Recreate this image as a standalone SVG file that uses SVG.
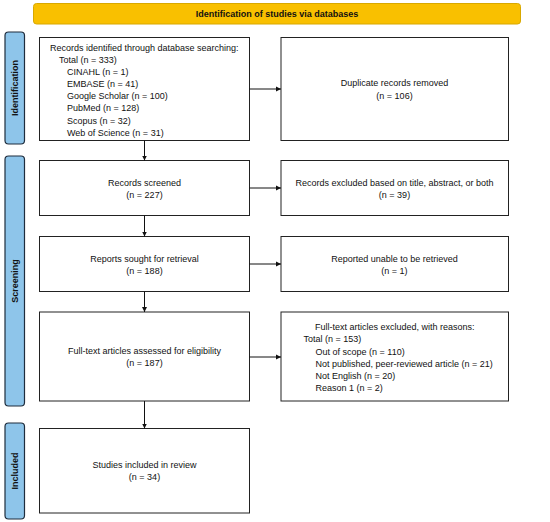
<svg xmlns="http://www.w3.org/2000/svg" width="550" height="522" viewBox="0 0 550 522">
<style>
.box{fill:#fff;stroke:#222;stroke-width:1}
.side{fill:#8ec5ea;stroke:#1f2d3d;stroke-width:1.2}
.t{font-family:"Liberation Sans",Arial,sans-serif;font-size:9px;fill:#111}
.c{text-anchor:middle}
.b{font-weight:bold}
.conn line{stroke:#111;stroke-width:1}
</style>
<defs>
<marker id="ah" markerWidth="6" markerHeight="6" refX="5" refY="3" orient="auto" markerUnits="userSpaceOnUse">
<path d="M0,0.5 L5,3 L0,5.5 Z" fill="#111"/>
</marker>
</defs>
<rect width="550" height="522" fill="#fff"/>
<g id="header">
<rect x="33.5" y="3.5" width="487" height="20.5" rx="3" fill="#f9c000" stroke="#d8a800"/>
<text class="t c b" x="277" y="17.3" font-size="9.8">Identification of studies via databases</text>
</g>
<g id="phase-identification">
<rect class="side" x="5" y="32" width="19.5" height="112" rx="3.5"/>
<text class="t c b" transform="translate(18.2,88) rotate(-90)">Identification</text>
</g>
<g id="phase-screening">
<rect class="side" x="5" y="156" width="19.5" height="250" rx="3.5"/>
<text class="t c b" transform="translate(18.2,281) rotate(-90)">Screening</text>
</g>
<g id="phase-included">
<rect class="side" x="5" y="423" width="19.5" height="96" rx="3.5"/>
<text class="t c b" transform="translate(18.2,471) rotate(-90)">Included</text>
</g>
<g id="n1">
<rect class="box" x="39.5" y="37.5" width="210" height="103"/>
<text class="t" x="50" y="50.5">Records identified through database searching:</text>
<text class="t" x="59" y="62.7">Total (n = 333)</text>
<text class="t" x="67" y="75">CINAHL (n = 1)</text>
<text class="t" x="67" y="87">EMBASE (n = 41)</text>
<text class="t" x="67" y="99.2">Google Scholar (n = 100)</text>
<text class="t" x="67" y="111.3">PubMed (n = 128)</text>
<text class="t" x="67" y="123.5">Scopus (n = 32)</text>
<text class="t" x="67" y="135.6">Web of Science (n = 31)</text>
</g>
<g id="n2">
<rect class="box" x="281" y="37.5" width="227.5" height="103"/>
<text class="t c" x="394.5" y="86.3">Duplicate records removed</text>
<text class="t c" x="394.5" y="98.8">(n = 106)</text>
</g>
<g id="n3">
<rect class="box" x="39.5" y="160.5" width="210" height="55"/>
<text class="t c" x="144.5" y="186">Records screened</text>
<text class="t c" x="144.5" y="198">(n = 227)</text>
</g>
<g id="n4">
<rect class="box" x="281" y="160.5" width="227.5" height="55"/>
<text class="t c" x="394.5" y="186">Records excluded based on title, abstract, or both</text>
<text class="t c" x="394.5" y="198">(n = 39)</text>
</g>
<g id="n5">
<rect class="box" x="39.5" y="236.5" width="210" height="55"/>
<text class="t c" x="144.5" y="261.5">Reports sought for retrieval</text>
<text class="t c" x="144.5" y="273.5">(n = 188)</text>
</g>
<g id="n6">
<rect class="box" x="281" y="236.5" width="227.5" height="55"/>
<text class="t c" x="394.5" y="261.5">Reported unable to be retrieved</text>
<text class="t c" x="394.5" y="273.5">(n = 1)</text>
</g>
<g id="n7">
<rect class="box" x="39.5" y="312" width="210" height="89"/>
<text class="t c" x="144.5" y="354.3">Full-text articles assessed for eligibility</text>
<text class="t c" x="144.5" y="366.3">(n = 187)</text>
</g>
<g id="n8">
<rect class="box" x="281" y="312" width="227.5" height="89"/>
<text class="t" x="315" y="330">Full-text articles excluded, with reasons:</text>
<text class="t" x="303.5" y="342.2">Total (n = 153)</text>
<text class="t" x="315.5" y="354.5">Out of scope (n = 110)</text>
<text class="t" x="315.5" y="366.7">Not published, peer-reviewed article (n = 21)</text>
<text class="t" x="315.5" y="379">Not English (n = 20)</text>
<text class="t" x="315.5" y="391.2">Reason 1 (n = 2)</text>
</g>
<g id="n9">
<rect class="box" x="39.5" y="428.5" width="210" height="84.5"/>
<text class="t c" x="144.5" y="467.8">Studies included in review</text>
<text class="t c" x="144.5" y="480.3">(n = 34)</text>
</g>
<g id="connectors" class="conn">
<line x1="249.5" y1="89" x2="281" y2="89" marker-end="url(#ah)"/>
<line x1="249.5" y1="188" x2="281" y2="188" marker-end="url(#ah)"/>
<line x1="249.5" y1="264" x2="281" y2="264" marker-end="url(#ah)"/>
<line x1="249.5" y1="357" x2="281" y2="357" marker-end="url(#ah)"/>
<line x1="144.5" y1="140.5" x2="144.5" y2="160.5" marker-end="url(#ah)"/>
<line x1="144.5" y1="215.5" x2="144.5" y2="236.5" marker-end="url(#ah)"/>
<line x1="144.5" y1="291.5" x2="144.5" y2="312" marker-end="url(#ah)"/>
<line x1="144.5" y1="401" x2="144.5" y2="428.5" marker-end="url(#ah)"/>
</g>
</svg>
